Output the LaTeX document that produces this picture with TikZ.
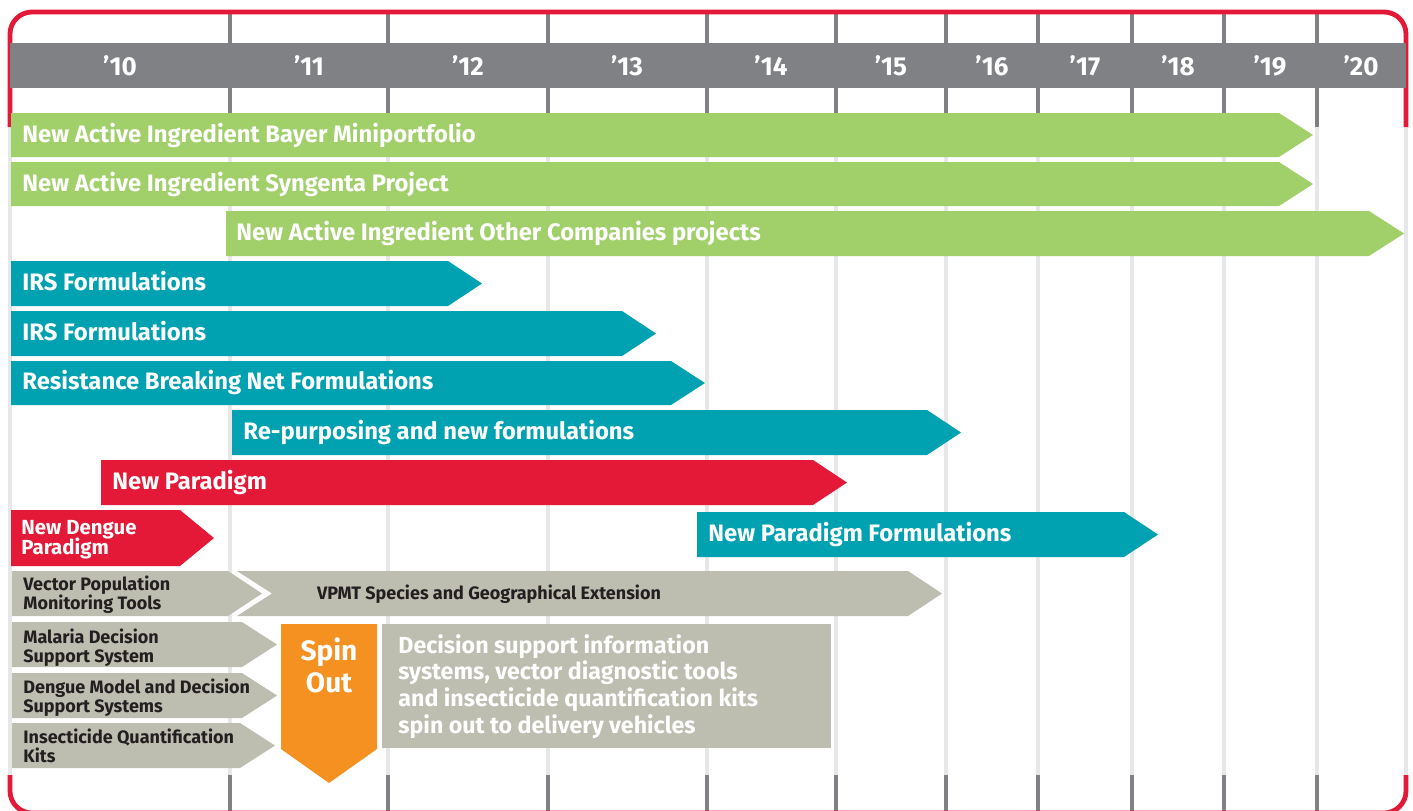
\documentclass[tikz,border=0pt]{standalone}
\usepackage{fontspec}
\setmainfont{Fira Sans}
\usepackage{tikz}
\usetikzlibrary{calc}
\usepackage{xcolor}
\definecolor{framered}{HTML}{E31937}
\definecolor{leafgreen}{HTML}{A1CF6A}
\definecolor{petrol}{HTML}{00A1B0}
\definecolor{stone}{HTML}{BDBDB0}
\definecolor{spinorange}{HTML}{F59120}
\definecolor{headgrey}{HTML}{808184}
\definecolor{gridgrey}{HTML}{E6E7E8}
\definecolor{inkblack}{HTML}{231F20}
\newcommand\tightlines{\lineskiplimit=-4pt\relax}

\begin{document}
\begin{tikzpicture}[x=0.5pt, y=-0.5pt]
  \tikzstyle{bar text}=[anchor=base west, inner sep=0, text=white, font=\bfseries\fontsize{11.9}{13}\selectfont]
  \tikzstyle{small text}=[anchor=base west, inner sep=0, align=left, text=inkblack, font=\bfseries\fontsize{9}{9.5}\selectfont\tightlines]
  \tikzstyle{year}=[anchor=base, inner sep=0, text=white, font=\bfseries\fontsize{13}{14}\selectfont]
  \tikzstyle{grid line}=[line width=2pt]
  \useasboundingbox (0,0) rectangle (1413,810);
  \clip (0,0) rectangle (1413,810);
  % year grid
  \foreach \x in {230,388,548,707,836,946,1038,1132,1224,1317}{
    \draw[grid line, headgrey] (\x,12) -- (\x,127);
    \draw[grid line, gridgrey] (\x,127) -- (\x,775);
    \draw[grid line, headgrey] (\x,775) -- (\x,815);
  }
  \draw[grid line, gridgrey] (10,127) -- (10,775) (1406,127) -- (1406,775);
  \draw[framered, line width=2.4pt, rounded corners=11pt] (10,127) -- (10,12) -- (1406,12) -- (1406,127);
  \draw[framered, line width=2.4pt, rounded corners=11pt] (10,775) -- (10,813) -- (1406,813) -- (1406,775);
  \fill[headgrey] (10,43) rectangle (1406,88);
  \foreach \x/\yr in {120/10,309/11,468/12,627/13,771/14,891/15,992/16,1085/17,1178/18,1270/19,1361/20}
    \node[year] (year\yr) at (\x,75) {’\yr};

  % active ingredients
  \fill[leafgreen] (11,113) -- (1279,113) -- (1313,135) -- (1279,157) -- (11,157) -- cycle;
  \node[bar text] (bayer) at (22,142) {New Active Ingredient Bayer Miniportfolio};
  \fill[leafgreen] (11,162) -- (1279,162) -- (1313,184) -- (1279,206) -- (11,206) -- cycle;
  \node[bar text] (syngenta) at (22,191) {New Active Ingredient Syngenta Project};
  \fill[leafgreen] (226,211) -- (1369,211) -- (1404,233.5) -- (1369,256) -- (226,256) -- cycle;
  \node[bar text] (others) at (236,240) {New Active Ingredient Other Companies projects};

  % formulations
  \fill[petrol] (11,261) -- (448,261) -- (482,283.5) -- (448,306) -- (11,306) -- cycle;
  \node[bar text] (irsA) at (22,290) {IRS Formulations};
  \fill[petrol] (11,311) -- (622,311) -- (656,333.5) -- (622,356) -- (11,356) -- cycle;
  \node[bar text] (irsB) at (22,340) {IRS Formulations};
  \fill[petrol] (11,361) -- (671,361) -- (705,383) -- (671,405) -- (11,405) -- cycle;
  \node[bar text] (netform) at (22,389) {Resistance Breaking Net Formulations};
  \fill[petrol] (232,410) -- (927,410) -- (961,432.5) -- (927,455) -- (232,455) -- cycle;
  \node[bar text] (repurpose) at (243,439) {Re-purposing and new formulations};

  % paradigms
  \fill[framered] (101,460) -- (813,460) -- (847,482.5) -- (813,505) -- (101,505) -- cycle;
  \node[bar text] (paradigm) at (112,489) {New Paradigm};
  \fill[framered] (11,510) -- (180,510) -- (214,538) -- (180,566) -- (11,566) -- cycle;
  \node[small text, text=white, font=\bfseries\fontsize{10.2}{10}\selectfont\tightlines] (dengue) at (21,554) {New Dengue\\Paradigm};
  \fill[petrol] (697,512) -- (1124,512) -- (1158,534.5) -- (1124,557) -- (697,557) -- cycle;
  \node[bar text] (paraform) at (708,541) {New Paradigm Formulations};

  % tools
  \fill[stone] (12,571) -- (228,571) -- (262,593.5) -- (228,616) -- (12,616) -- cycle;
  \node[small text] (vpmt) at (23,609) {Vector Population\\Monitoring Tools};
  \fill[stone] (237,571) -- (908,571) -- (942,593.5) -- (908,616) -- (237,616) -- (272,593.5) -- cycle;
  \node[small text, anchor=base] (vpmtext) at (489,599) {VPMT Species and Geographical Extension};
  \fill[stone] (12,622) -- (242,622) -- (277,644.5) -- (242,667) -- (12,667) -- cycle;
  \node[small text] (malaria) at (23,662) {Malaria Decision\\Support System};
  \fill[stone] (12,673) -- (242,673) -- (277,695.5) -- (242,718) -- (12,718) -- cycle;
  \node[small text] (denguemodel) at (23,712) {Dengue Model and Decision\\Support Systems};
  \fill[stone] (12,723) -- (240,723) -- (275,745.5) -- (240,768) -- (12,768) -- cycle;
  \node[small text] (kits) at (23,762) {Insecticide Quantification\\Kits};

  % spin out
  \fill[spinorange] (281,624) -- (377,624) -- (377,749) -- (329,783) -- (281,749) -- cycle;
  \node[anchor=base, inner sep=0, align=center, text=white, font=\bfseries\fontsize{14}{16}\selectfont] (spinout) at (329,692) {Spin\\Out};
  \fill[stone] (382,624) rectangle (831,748);
  \node[anchor=base west, inner sep=0, align=left, text=white, font=\bfseries\fontsize{11.6}{13.3}\selectfont] (delivery) at (398,733)
    {Decision support information\\systems, vector diagnostic tools\\and insecticide quantification kits\\spin out to delivery vehicles};
\end{tikzpicture}
\end{document}
